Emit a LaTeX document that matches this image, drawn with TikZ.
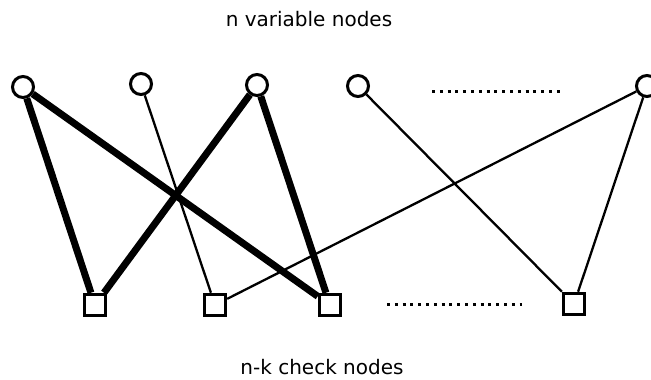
\documentclass[tikz,border=0pt]{standalone}
\usepackage{fontspec}
\setmainfont{DejaVu Sans}
\usetikzlibrary{backgrounds}
\begin{document}
\begin{tikzpicture}[x=1pt,y=-1pt,
  var/.style={circle,draw,line width=3pt,fill=white,minimum size=21pt,inner sep=0pt},
  chk/.style={rectangle,draw,line width=3pt,fill=white,minimum size=21.5pt,inner sep=0pt},
  thinedge/.style={line width=2.3pt},
  thickedge/.style={line width=7pt},
  caption/.style={font=\fontsize{20}{24}\selectfont},
  dotrow/.style={line width=3pt,dash pattern=on 3pt off 4.8pt}]
\useasboundingbox (0,0) rectangle (651,380);

% variable nodes
\node[var] (c1) at (23,87) {};
\node[var] (c2) at (141,84) {};
\node[var] (c3) at (257,85) {};
\node[var] (c4) at (358,86) {};
\node[var] (c5) at (647,86) {};

% check nodes
\node[chk] (s1) at (95,305) {};
\node[chk] (s2) at (215,305) {};
\node[chk] (s3) at (330,305) {};
\node[chk] (s4) at (574,304) {};

% dotted continuation marks
\coordinate (ta) at (432,91);
\coordinate (tb) at (563,91);
\coordinate (ba) at (387,304);
\coordinate (bb) at (522,304);
\draw[dotrow] (ta) -- (tb);
\draw[dotrow] (ba) -- (bb);

% captions
\node[caption] (top) at (309,19) {n variable nodes};
\node[caption] (bot) at (322,367) {n-k check nodes};

% edges
\begin{pgfonlayer}{background}
\draw[thickedge] (c1) -- (s1);
\draw[thickedge] (c1) -- (s3);
\draw[thickedge] (c3) -- (s1);
\draw[thickedge] (c3) -- (s3);
\draw[thinedge] (c2) -- (s2);
\draw[thinedge] (c4) -- (s4);
\draw[thinedge] (c5) -- (s2);
\draw[thinedge] (c5) -- (s4);
\end{pgfonlayer}
\end{tikzpicture}
\end{document}
